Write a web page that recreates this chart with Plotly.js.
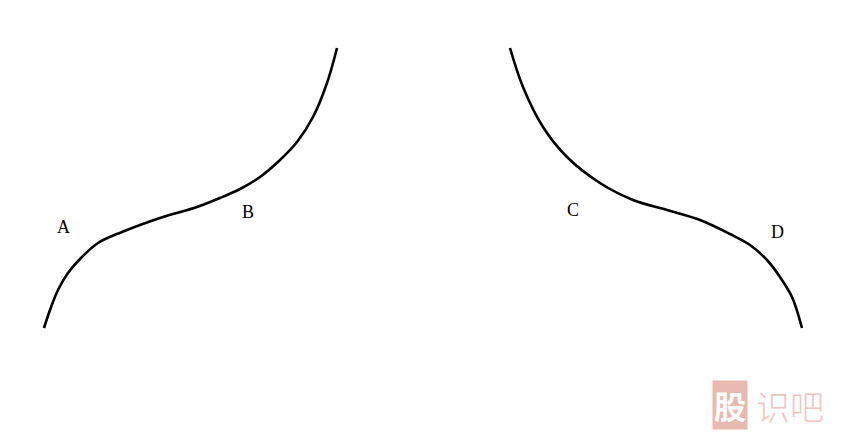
<!DOCTYPE html>
<html>
<head>
<meta charset="utf-8">
<script src="https://cdn.plot.ly/plotly-3.0.1.min.js"></script>
<style>
  html, body { margin: 0; padding: 0; background: #fff; }
  #chart { width: 857px; height: 444px; }
</style>
</head>
<body>
<div id="chart"></div>
<script>
// curve points (pixel space, y grows downward)
const leftX  = [44, 50, 58, 68, 82, 98, 122, 163, 197, 220, 240, 260, 280, 297, 313, 327, 337];
const leftY  = [328, 310, 290, 273, 257, 243, 232, 217, 207, 198, 189, 177, 160, 142, 117, 83, 48];
const rightX = [510, 523, 543, 567, 600, 633, 667, 700, 730, 750, 767, 780, 792, 802];
const rightY = [48, 87, 127, 157, 183, 200, 210, 220, 234, 245, 260, 277, 297, 328];

const labelText = ['A', 'B', 'C', 'D'];
const labelX = [63, 248, 573, 777];
const labelY = [227, 212, 210, 232];

const lineStyle = { color: '#000', width: 2.6, shape: 'spline', smoothing: 1 };

const traces = [
    { x: leftX, y: leftY, type: 'scatter', mode: 'lines', line: lineStyle, hoverinfo: 'skip' },
    { x: rightX, y: rightY, type: 'scatter', mode: 'lines', line: lineStyle, hoverinfo: 'skip' }
];

const annotations = labelText.map((t, i) => ({
    x: labelX[i], y: labelY[i], text: t, showarrow: false,
    font: { family: 'Liberation Serif, DejaVu Serif, serif', size: 18, color: '#000' }
}));

// watermark
annotations.push(
    { x: 730, y: 405, text: '股', showarrow: false, bgcolor: '#e8b9ae', borderpad: 1,
      font: { family: 'Noto Sans CJK SC', size: 32, color: '#fff', weight: 700 } },
    { x: 790, y: 405, text: '识吧', showarrow: false,
      font: { family: 'Noto Sans CJK SC', size: 34, color: '#eec6bf', weight: 300 } }
);

const layout = {
    width: 857, height: 444,
    margin: { t: 0, b: 0, l: 0, r: 0 },
    paper_bgcolor: '#fff', plot_bgcolor: '#fff',
    showlegend: false,
    xaxis: { range: [0, 857], visible: false, fixedrange: true },
    yaxis: { range: [444, 0], visible: false, fixedrange: true },
    annotations: annotations
};

Plotly.newPlot('chart', traces, layout, { displayModeBar: false, staticPlot: true });
</script>
</body>
</html>
